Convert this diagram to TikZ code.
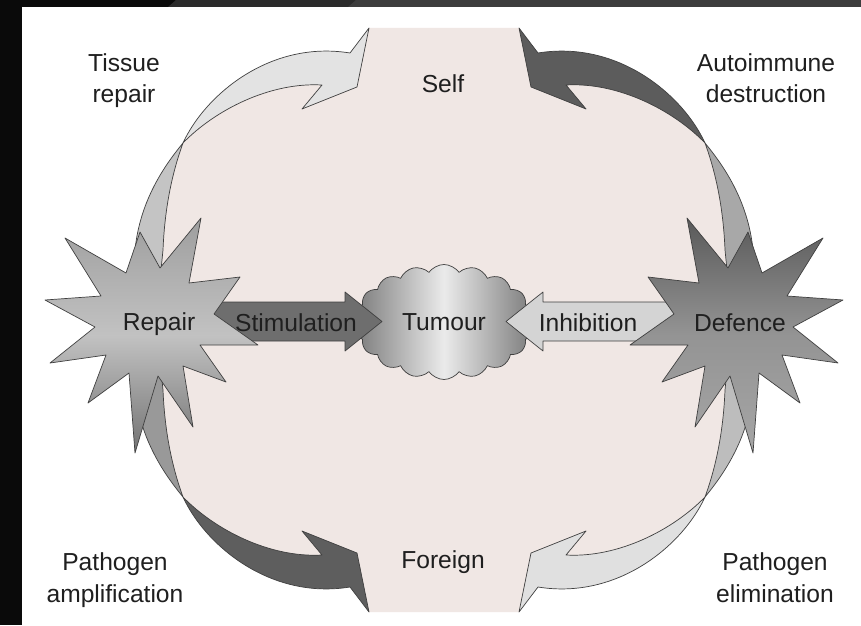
\documentclass[tikz,border=0pt]{standalone}
\usepackage{fontspec}
\setmainfont{Liberation Sans}
\usepackage{tikz}
\usetikzlibrary{shapes.symbols}
\definecolor{selfpink}{RGB}{240,231,228}
\tikzstyle{lbl} = [font=\fontsize{21}{26.5}\selectfont, align=center, inner sep=0pt, text=black!88]
\tikzstyle{outline} = [draw=black!75, line width=0.6pt, line join=round]
\tikzstyle{flatarrow} = [outline]
\newcommand{\ribbonhead}{(183,143) .. controls (205,95) and (270,40) .. (350,53) -- (369,28) -- (357,87) -- (302,109) -- (322,85) .. controls (270,82) and (215,110) .. (183,143) -- cycle}
\newcommand{\ribbontail}{(183,143) .. controls (165,165) and (140,200) .. (135,250) -- (132,300) -- (158,300) -- (163,250) .. controls (165,200) and (175,165) .. (183,143) -- cycle}
\newcommand{\starpath}{(843,300) -- (787,296) -- (823,238) -- (762,273) -- (748,232) -- (728,268) -- (687,218) -- (699,283) -- (648,277) -- (674,314) -- (630,345) -- (688,345) -- (662,382) -- (705,366) -- (695,427) -- (730,376) -- (753,453) -- (759,373) -- (800,403) -- (782,355) -- (838,363) -- (793,327) -- cycle}
\begin{document}
\begin{tikzpicture}[x=0.3mm, y=-0.3mm]
\useasboundingbox (0,0) rectangle (861,625);
\fill[white] (0,0) rectangle (861,625);
\fill[black!96] (0,0) rectangle (861,7);
\fill[black!83] (168,7) -- (176,0) -- (861,0) -- (861,7) -- cycle;
\fill[black!76] (348,7) -- (356,0) -- (861,0) -- (861,7) -- cycle;
\fill[black!96] (0,0) rectangle (22,625);

\fill[selfpink] (369,28) -- (519,28) -- (536,62) .. controls (598,55) and (673,95) .. (705,143) .. controls (728,175) and (740,215) .. (740,250) -- (743,320) -- (740,390) .. controls (740,425) and (728,465) .. (705,497) .. controls (673,545) and (598,585) .. (536,578) -- (519,612) -- (369,612) -- (352,578) .. controls (290,585) and (215,545) .. (183,497) .. controls (160,465) and (148,425) .. (148,390) -- (145,320) -- (148,250) .. controls (148,215) and (160,175) .. (183,143) .. controls (215,95) and (290,55) .. (352,62) -- cycle;

\path[outline, fill=black!23] \ribbontail;
\path[outline, fill=black!11] \ribbonhead;
\begin{scope}[shift={(888,0)}, xscale=-1]
	\path[outline, fill=black!34] \ribbontail;
	\path[outline, fill=black!64] \ribbonhead;
\end{scope}
\begin{scope}[shift={(0,640)}, yscale=-1]
	\path[outline, fill=black!40] \ribbontail;
	\path[outline, fill=black!63] \ribbonhead;
\end{scope}
\begin{scope}[shift={(888,640)}, xscale=-1, yscale=-1]
	\path[outline, fill=black!26] \ribbontail;
	\path[outline, fill=black!12] \ribbonhead;
\end{scope}

\node (tumour) [cloud, cloud puffs=18, cloud puff arc=110, aspect=1.6, minimum width=54mm, minimum height=34.5mm, outline, shading=axis, shading angle=90, left color=black!52, right color=black!52, middle color=black!8, lbl] at (444,322) {Tumour};

\draw[flatarrow, fill=black!57] (205,302) -- (345,302) -- (345,292) -- (382,321.5) -- (345,351) -- (345,341) -- (205,341) -- cycle;
\draw[flatarrow, fill=black!17] (683,302) -- (543,302) -- (543,292) -- (506,321.5) -- (543,351) -- (543,341) -- (683,341) -- cycle;

\path[outline, top color=black!65, bottom color=black!35, middle color=black!42] \starpath;
\begin{scope}[shift={(888,0)}, xscale=-1]
	\path[outline, top color=black!38, bottom color=black!55, middle color=black!24] \starpath;
\end{scope}

\node (repair) [lbl, anchor=base] at (159,330) {Repair};
\node (defence) [lbl, anchor=base] at (740,331) {Defence};
\node (stimulation) [lbl, anchor=base] at (296,331) {Stimulation};
\node (inhibition) [lbl, anchor=base] at (588,331) {Inhibition};
\node (self) [lbl, anchor=base] at (443,93) {Self};
\node (foreign) [lbl, anchor=base] at (443,568) {Foreign};
\node (tissue) [lbl, anchor=base] at (124,103) {Tissue\\repair};
\node (autoimmune) [lbl, anchor=base] at (766,103) {Autoimmune\\destruction};
\node (amplification) [lbl, anchor=base] at (115,602) {Pathogen\\amplification};
\node (elimination) [lbl, anchor=base] at (775,602) {Pathogen\\elimination};
\end{tikzpicture}
\end{document}
